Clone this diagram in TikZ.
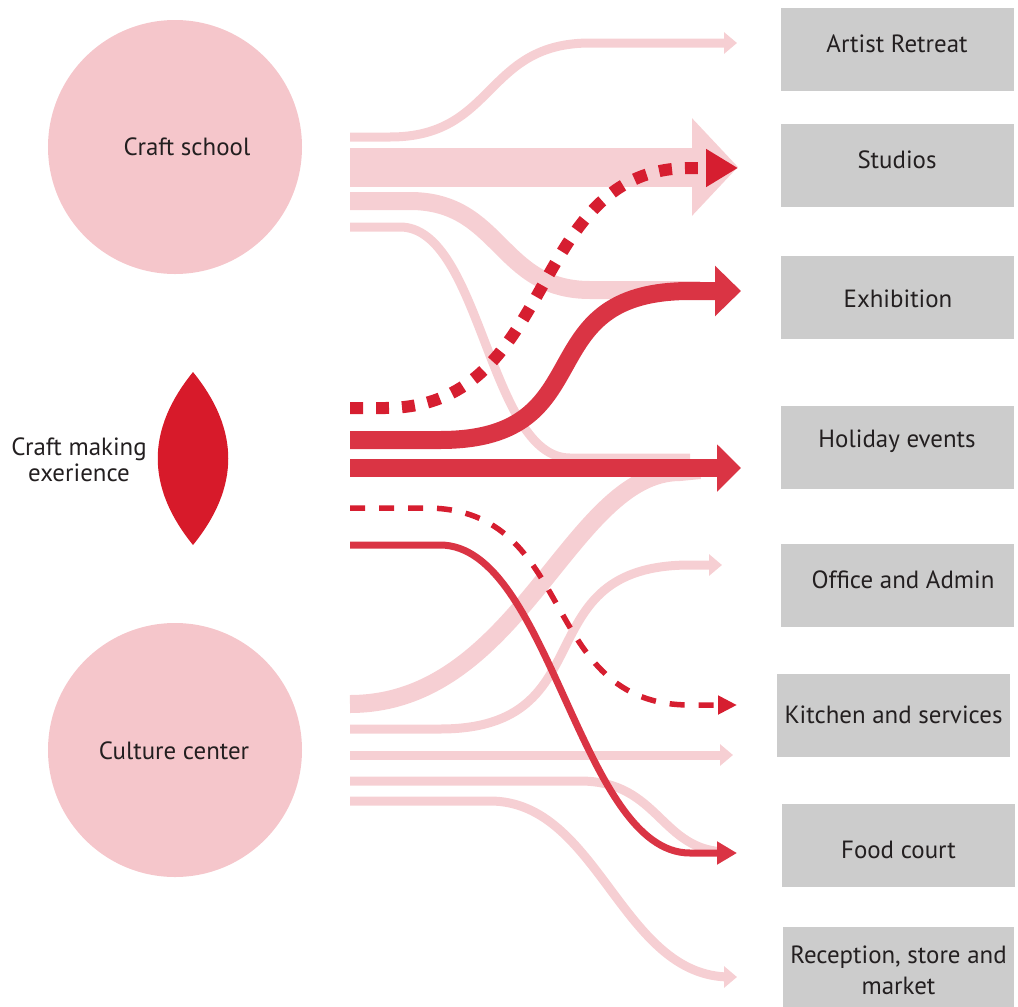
\documentclass[tikz,border=0pt]{standalone}
\usepackage{fontspec}
\setmainfont{PT Sans}
\usetikzlibrary{arrows.meta}
\definecolor{pinkc}{HTML}{F5C6CB}
\definecolor{pinkf}{HTML}{F6CFD3}
\definecolor{redf}{HTML}{DA3444}
\definecolor{redd}{HTML}{D61E30}
\definecolor{lensc}{HTML}{D71A2A}
\definecolor{boxc}{HTML}{CCCCCC}
\definecolor{txt}{HTML}{231F20}
\begin{document}
\begin{tikzpicture}[x=1bp,y=-1bp,
  lbl/.style={font=\fontsize{25}{31}\selectfont, text=txt, align=center, inner sep=0pt},
  place/.style={circle, fill=pinkc, minimum size=254bp, inner sep=0pt},
  boxn/.style={fill=boxc, minimum width=233bp, minimum height=83bp, inner sep=0pt},
  pthin/.style={draw=pinkf, line width=9bp, -{Triangle[length=13bp,width=21bp]}},
  pplain/.style={draw=pinkf, line width=#1},
  rsolid/.style={draw=redf, line width=#1},
  rdash/.style={draw=redd, line width=#1},
]
\useasboundingbox (0,0) rectangle (1018,1007);

% sources
\node[place] (school) at (175,147) {};
\node[lbl] (schooltxt) at (187,147) {Craft school};
\node[place] (culture) at (175,750) {};
\node[lbl] (culturetxt) at (174,751) {Culture center};
\fill[lensc] (193,372) .. controls (240,430) and (240,487) .. (193,545)
             .. controls (146,487) and (146,430) .. (193,372);
\coordinate (lens) at (193,458);
\node[lbl, font=\fontsize{25}{26}\selectfont] (craft) at (79,460) {Craft making\\exerience};

% targets
\node[boxn] (artist) at (897.5,49) {};
\node[lbl] (artisttxt) at (897,44) {Artist Retreat};
\node[boxn] (studios) at (897.5,165.5) {};
\node[lbl] (studiostxt) at (897,160) {Studios};
\node[boxn] (exhib) at (897.5,297.5) {};
\node[lbl] (exhibtxt) at (898,299) {Exhibition};
\node[boxn] (holiday) at (897.5,447) {};
\node[lbl] (holidaytxt) at (897,441) {Holiday events};
\node[boxn] (office) at (897.5,585.5) {};
\node[lbl] (officetxt) at (903,580) {Office and Admin};
\node[boxn] (kitchen) at (893.5,715.5) {};
\node[lbl] (kitchentxt) at (893.5,715) {Kitchen and services};
\node[boxn] (food) at (898.5,845.5) {};
\node[lbl] (foodtxt) at (898.5,850) {Food court};
\node[fill=boxc, minimum width=231bp, minimum height=80bp, inner sep=0pt] (recep) at (898.5,967) {};
\node[lbl] (receptxt) at (898.5,970) {Reception, store and\\market};

% flow end points
\coordinate (a1) at (350,137);  \coordinate (e1) at (737,43);
\coordinate (a2) at (350,167);  \coordinate (e2) at (738,167);
\coordinate (a3) at (350,201);  \coordinate (e3) at (700,290);
\coordinate (a4) at (350,227);  \coordinate (e4) at (690,458);
\coordinate (c1) at (350,704);  \coordinate (f1) at (700,470);
\coordinate (c2) at (350,729);  \coordinate (f2) at (722,565);
\coordinate (c3) at (350,755);  \coordinate (f3) at (733,755);
\coordinate (c4) at (350,781);  \coordinate (f4) at (728,852);
\coordinate (c5) at (350,801);  \coordinate (f5) at (737,977);
\coordinate (m1) at (350,408);  \coordinate (n1) at (738,168);
\coordinate (m2) at (350,440);  \coordinate (n2) at (741,291);
\coordinate (m3) at (350,468);  \coordinate (n3) at (741,468);
\coordinate (m4) at (350,508);  \coordinate (n4) at (737,705);
\coordinate (m5) at (350,545);  \coordinate (n5) at (737,853);

% pink flows: craft school
\draw[pthin] (a1) -- (390,137) .. controls (496,137) and (484,43) .. (590,43) -- (e1);
\draw[pplain=39bp, -{Triangle[length=46bp,width=95bp]}] (a2) -- (e2);
\draw[pplain=18bp] (a3) -- (410,201) .. controls (501,201) and (499,290) .. (590,290) -- (e3);
\draw[pplain=9bp] (a4) -- (400,227) .. controls (481,227) and (489,458) .. (570,458) -- (e4);

% pink flows: culture center
\draw[pplain=18bp] (c1) .. controls (520,704) and (570,472) .. (680,472) -- (f1);
\draw[pthin] (c2) -- (440,729) .. controls (608,729) and (522,565) .. (690,565) -- (f2);
\draw[pthin] (c3) -- (f3);
\draw[pplain=9bp] (c4) -- (580,781) .. controls (660,781) and (660,852) .. (f4);
\draw[pthin] (c5) -- (490,801) .. controls (599,801) and (621,977) .. (730,977) -- (f5);

% red flows: craft making experience
\draw[rdash=12bp, dash pattern=on 13bp off 13bp, -{Triangle[length=32bp,width=36bp]}]
  (m1) -- (385,408) .. controls (560,408) and (525,168) .. (690,168) -- (n1);
\draw[rsolid=18bp, -{Triangle[length=26bp,width=49bp]}]
  (m2) -- (440,440) .. controls (607,440) and (523,291) .. (690,291) -- (n2);
\draw[rsolid=18bp, -{Triangle[length=24bp,width=46bp]}] (m3) -- (n3);
\draw[rdash=5.5bp, dash pattern=on 15bp off 14bp, -{Triangle[length=19bp,width=18bp]}]
  (m4) -- (426,508) .. controls (579,508) and (537,705) .. (690,705) -- (n4);
\draw[rsolid=7bp, -{Triangle[length=20bp,width=22bp]}]
  (m5) -- (440,545) .. controls (550,545) and (580,853) .. (690,853) -- (n5);
\end{tikzpicture}
\end{document}
